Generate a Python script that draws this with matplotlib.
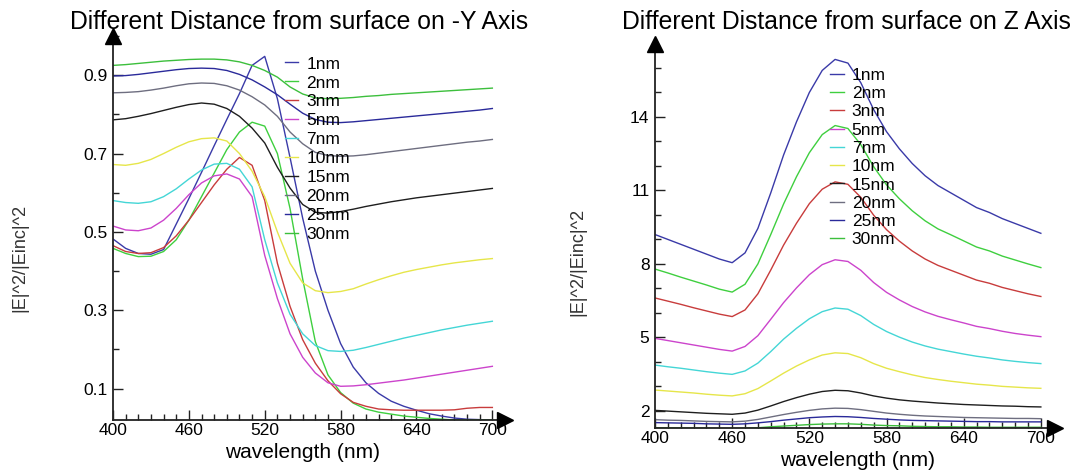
import matplotlib
matplotlib.use("Agg")
import matplotlib.pyplot as plt
from matplotlib.ticker import FixedLocator

plt.rcParams['font.family'] = ['Liberation Sans', 'DejaVu Sans']

# wavelength grid (nm)
wavelength = list(range(400, 701, 10))

labels = ["1nm", "2nm", "3nm", "5nm", "7nm", "10nm", "15nm", "20nm", "25nm", "30nm"]
colors = ["#3a3aa8", "#3fcf3f", "#c83c3c", "#cc44cc", "#44d6d6",
          "#e6e64a", "#1e1e1e", "#6e6e80", "#2a2a9a", "#3cbf3c"]

# |E|^2/|Einc|^2 along the -Y axis
y_1nm = [0.482, 0.458, 0.445, 0.443, 0.455, 0.520, 0.585, 0.652, 0.720, 0.787, 0.853,
         0.925, 0.948, 0.840, 0.690, 0.535, 0.400, 0.300, 0.215, 0.155, 0.115, 0.088,
         0.068, 0.055, 0.045, 0.036, 0.030, 0.025, 0.022, 0.021, 0.020]
y_2nm = [0.458, 0.445, 0.437, 0.438, 0.450, 0.480, 0.530, 0.590, 0.650, 0.710, 0.755,
         0.780, 0.770, 0.700, 0.560, 0.380, 0.220, 0.135, 0.090, 0.063, 0.048, 0.040,
         0.035, 0.030, 0.027, 0.024, 0.022, 0.020, 0.020, 0.020, 0.020]
y_3nm = [0.465, 0.450, 0.445, 0.447, 0.460, 0.490, 0.530, 0.575, 0.620, 0.660, 0.690,
         0.670, 0.580, 0.420, 0.310, 0.225, 0.165, 0.120, 0.087, 0.065, 0.055, 0.048,
         0.046, 0.045, 0.045, 0.045, 0.045, 0.046, 0.050, 0.052, 0.052]
y_5nm = [0.515, 0.505, 0.503, 0.510, 0.530, 0.560, 0.595, 0.625, 0.643, 0.648, 0.635,
         0.590, 0.440, 0.330, 0.240, 0.180, 0.140, 0.115, 0.106, 0.107, 0.110, 0.114,
         0.118, 0.122, 0.127, 0.132, 0.137, 0.142, 0.147, 0.152, 0.157]
y_7nm = [0.580, 0.575, 0.573, 0.577, 0.590, 0.610, 0.635, 0.658, 0.673, 0.675, 0.660,
         0.615, 0.480, 0.370, 0.290, 0.240, 0.210, 0.197, 0.195, 0.198, 0.205, 0.213,
         0.221, 0.229, 0.236, 0.243, 0.250, 0.256, 0.262, 0.267, 0.272]
y_10nm = [0.672, 0.670, 0.675, 0.685, 0.700, 0.716, 0.730, 0.738, 0.740, 0.732, 0.700,
          0.655, 0.590, 0.500, 0.420, 0.370, 0.350, 0.345, 0.348, 0.355, 0.367, 0.378,
          0.388, 0.397, 0.404, 0.410, 0.416, 0.421, 0.425, 0.429, 0.432]
y_15nm = [0.786, 0.789, 0.795, 0.802, 0.810, 0.818, 0.825, 0.829, 0.826, 0.815, 0.795,
          0.765, 0.727, 0.665, 0.612, 0.570, 0.550, 0.548, 0.552, 0.558, 0.565, 0.571,
          0.577, 0.582, 0.587, 0.591, 0.595, 0.599, 0.603, 0.607, 0.611]
y_20nm = [0.855, 0.856, 0.858, 0.862, 0.867, 0.873, 0.878, 0.880, 0.879, 0.873, 0.862,
          0.845, 0.824, 0.795, 0.755, 0.725, 0.703, 0.695, 0.693, 0.694, 0.697, 0.701,
          0.705, 0.709, 0.713, 0.717, 0.721, 0.725, 0.729, 0.732, 0.736]
y_25nm = [0.898, 0.899, 0.902, 0.906, 0.910, 0.914, 0.917, 0.918, 0.917, 0.912, 0.902,
          0.888, 0.870, 0.850, 0.826, 0.803, 0.787, 0.780, 0.779, 0.781, 0.784, 0.787,
          0.790, 0.793, 0.796, 0.799, 0.802, 0.805, 0.808, 0.811, 0.815]
y_30nm = [0.925, 0.927, 0.930, 0.933, 0.936, 0.938, 0.940, 0.941, 0.941, 0.939, 0.934,
          0.925, 0.912, 0.895, 0.870, 0.852, 0.842, 0.840, 0.841, 0.843, 0.846, 0.848,
          0.851, 0.853, 0.855, 0.857, 0.859, 0.861, 0.863, 0.865, 0.867]

# |E|^2/|Einc|^2 along the Z axis
z_1nm = [9.20, 9.00, 8.80, 8.60, 8.40, 8.20, 8.05, 8.45, 9.45, 10.90, 12.45, 13.80, 15.00,
         15.90, 16.35, 16.20, 15.40, 14.30, 13.40, 12.70, 12.10, 11.60, 11.20, 10.90,
         10.60, 10.30, 10.10, 9.85, 9.65, 9.45, 9.25]
z_2nm = [7.79, 7.63, 7.46, 7.30, 7.14, 6.97, 6.85, 7.17, 8.00, 9.20, 10.45, 11.56, 12.54,
         13.28, 13.65, 13.53, 12.87, 11.97, 11.23, 10.66, 10.17, 9.76, 9.43, 9.19, 8.94,
         8.69, 8.53, 8.32, 8.16, 8.00, 7.85]
z_3nm = [6.61, 6.48, 6.35, 6.21, 6.08, 5.95, 5.85, 6.12, 6.78, 7.75, 8.77, 9.66, 10.46,
         11.05, 11.35, 11.25, 10.72, 9.99, 9.40, 8.93, 8.53, 8.20, 7.94, 7.74, 7.54,
         7.34, 7.21, 7.04, 6.91, 6.78, 6.67]
z_5nm = [4.96, 4.87, 4.78, 4.69, 4.60, 4.51, 4.44, 4.63, 5.07, 5.74, 6.42, 7.02, 7.56,
         7.97, 8.17, 8.10, 7.74, 7.24, 6.84, 6.53, 6.26, 6.04, 5.86, 5.72, 5.59, 5.45,
         5.36, 5.25, 5.16, 5.09, 5.03]
z_7nm = [3.87, 3.80, 3.74, 3.67, 3.60, 3.54, 3.49, 3.63, 3.95, 4.42, 4.93, 5.37, 5.76,
         6.05, 6.20, 6.15, 5.89, 5.53, 5.24, 5.01, 4.81, 4.65, 4.52, 4.42, 4.32, 4.23,
         4.16, 4.08, 4.02, 3.97, 3.93]
z_10nm = [2.85, 2.81, 2.77, 2.73, 2.68, 2.64, 2.61, 2.70, 2.91, 3.22, 3.54, 3.83, 4.08,
          4.28, 4.37, 4.34, 4.17, 3.93, 3.74, 3.60, 3.47, 3.36, 3.28, 3.21, 3.15, 3.09,
          3.05, 3.00, 2.97, 2.94, 2.92]
z_15nm = [2.02, 1.99, 1.96, 1.93, 1.90, 1.88, 1.86, 1.91, 2.03, 2.20, 2.38, 2.54, 2.68,
          2.79, 2.84, 2.82, 2.73, 2.61, 2.52, 2.45, 2.40, 2.36, 2.32, 2.29, 2.26, 2.24,
          2.22, 2.20, 2.19, 2.17, 2.16]
z_20nm = [1.64, 1.62, 1.61, 1.59, 1.57, 1.56, 1.55, 1.58, 1.65, 1.75, 1.85, 1.94, 2.02,
          2.08, 2.11, 2.10, 2.05, 1.98, 1.91, 1.86, 1.82, 1.79, 1.77, 1.75, 1.73, 1.72,
          1.71, 1.70, 1.69, 1.69, 1.68]
z_25nm = [1.52, 1.51, 1.50, 1.49, 1.47, 1.46, 1.45, 1.47, 1.51, 1.56, 1.62, 1.67, 1.72,
          1.75, 1.77, 1.76, 1.73, 1.69, 1.66, 1.63, 1.61, 1.60, 1.59, 1.58, 1.57, 1.56,
          1.56, 1.55, 1.55, 1.55, 1.55]
z_30nm = [1.31, 1.30, 1.30, 1.29, 1.29, 1.28, 1.28, 1.29, 1.31, 1.35, 1.38, 1.41, 1.44,
          1.46, 1.47, 1.47, 1.45, 1.42, 1.40, 1.39, 1.37, 1.36, 1.35, 1.35, 1.34, 1.34,
          1.33, 1.33, 1.33, 1.33, 1.33]

y_series = [y_1nm, y_2nm, y_3nm, y_5nm, y_7nm, y_10nm, y_15nm, y_20nm, y_25nm, y_30nm]
z_series = [z_1nm, z_2nm, z_3nm, z_5nm, z_7nm, z_10nm, z_15nm, z_20nm, z_25nm, z_30nm]

W, H = 1088, 470
fig = plt.figure(figsize=(W / 100, H / 100), dpi=100)


def px_axes(x0, y_bottom, x1, y_top):
    return fig.add_axes([x0 / W, 1 - y_bottom / H, (x1 - x0) / W, (y_bottom - y_top) / H])


def style_axes(ax, xlim, ylim, ymajor, yminor):
    ax.set_xlim(*xlim)
    ax.set_ylim(*ylim)
    for side in ("top", "right"):
        ax.spines[side].set_visible(False)
    for side in ("left", "bottom"):
        ax.spines[side].set_linewidth(1.3)
        ax.spines[side].set_color("#222222")
    ax.xaxis.set_major_locator(FixedLocator([400, 460, 520, 580, 640, 700]))
    ax.xaxis.set_minor_locator(FixedLocator(list(range(410, 701, 10))))
    ax.yaxis.set_major_locator(FixedLocator(ymajor))
    ax.yaxis.set_minor_locator(FixedLocator(yminor))
    ax.tick_params(which="major", direction="in", length=7, width=1.0,
                   color="#222222", labelsize=12.5, pad=4)
    ax.tick_params(which="minor", direction="in", length=4, width=1.0, color="#222222")
    ax.tick_params(axis="x", pad=2)
    # arrow heads at the ends of both axes
    ax.plot(1.0, 0, marker=">", color="black", markersize=11, transform=ax.transAxes,
            clip_on=False, zorder=5)
    ax.plot(0, 1.0, marker="^", color="black", markersize=11, transform=ax.transAxes,
            clip_on=False, zorder=5)


# -Y axis panel
ax1 = px_axes(113, 420, 505, 36)
for vals, lab, col in zip(y_series, labels, colors):
    ax1.plot(wavelength, vals, color=col, lw=1.0, label=lab)
style_axes(ax1, (400, 710), (0.02, 1.0), [0.1, 0.3, 0.5, 0.7, 0.9],
           [0.2, 0.4, 0.6, 0.8, 1.0])
ax1.yaxis.set_major_formatter(plt.FuncFormatter(lambda v, p: f"{v:.1f}"))
ax1.legend(loc="upper left", bbox_to_anchor=(0.42, 0.965), frameon=False,
           fontsize=12.5, handlelength=0.8, handletextpad=0.45, labelspacing=0.22,
           borderaxespad=0)

# Z axis panel
ax2 = px_axes(655, 428, 1055, 43.5)
for vals, lab, col in zip(z_series, labels, colors):
    ax2.plot(wavelength, vals, color=col, lw=1.0, label=lab)
style_axes(ax2, (400, 711), (1.3, 17.0), [2, 5, 8, 11, 14],
           [3, 4, 6, 7, 9, 10, 12, 13, 15, 16])
ax2.legend(loc="upper left", bbox_to_anchor=(0.42, 0.955), frameon=False,
           fontsize=12.5, handlelength=0.8, handletextpad=0.45, labelspacing=0.18,
           borderaxespad=0)

# titles and axis labels
fig.text(299 / W, 1 - 22 / H, "Different Distance from surface on -Y Axis",
         ha="center", va="center", fontsize=17.8)
fig.text(846 / W, 1 - 22 / H, "Different Distance from surface on Z Axis",
         ha="center", va="center", fontsize=17.8)
fig.text(303 / W, 1 - 453 / H, "wavelength (nm)", ha="center", va="center", fontsize=15)
fig.text(858 / W, 1 - 460 / H, "wavelength (nm)", ha="center", va="center", fontsize=15)
fig.text(20 / W, 1 - 258 / H, "|E|^2/|Einc|^2", ha="center", va="center",
         rotation=90, fontsize=13, color="#333333")
fig.text(578 / W, 1 - 262 / H, "|E|^2/|Einc|^2", ha="center", va="center",
         rotation=90, fontsize=13, color="#333333")

fig.savefig("out.png", dpi=100)
